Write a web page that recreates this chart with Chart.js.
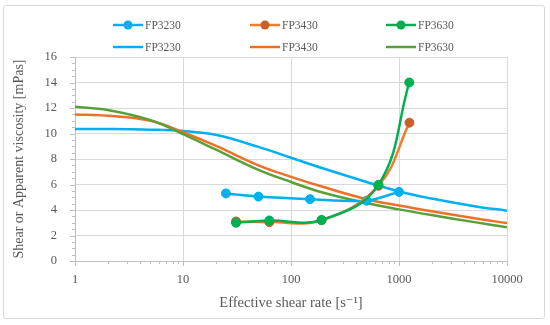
<!DOCTYPE html>
<html>
<head>
<meta charset="utf-8">
<script src="https://cdn.jsdelivr.net/npm/chart.js@4.4.1/dist/chart.umd.min.js"></script>
<style>
  body { margin: 0; background: #fff; }
  #wrap { position: relative; width: 550px; height: 325px; }
  #frame { position: absolute; left: 3px; top: 5px; width: 542px; height: 314px;
           border: 1px solid #d9d9d9; border-radius: 3px; box-sizing: border-box; }
  canvas { position: absolute; left: 0; top: 0; }
</style>
</head>
<body>
<div id="wrap">
  <div id="frame"></div>
  <canvas id="chart" width="550" height="325"></canvas>
</div>
<script>
const seriesNames = ['FP3230', 'FP3430', 'FP3630'];
const xTickValues = [1, 10, 100, 1000, 10000];

// measured points (with markers)
const rateFP3230 = [25, 50, 150, 500, 1000];
const viscFP3230 = [5.3, 5.05, 4.85, 4.73, 5.42];
const rateFP3430 = [31, 63, 192, 645, 1250];
const viscFP3430 = [3.1, 3.05, 3.2, 5.9, 10.85];
const rateFP3630 = [31, 63, 192, 645, 1245];
const viscFP3630 = [3.0, 3.18, 3.22, 5.97, 14.0];

// fitted curves
const modelRate   = [1, 2, 5, 10, 20, 50, 100, 200, 500, 1000, 2000, 5000, 10000];
const modelFP3230 = [10.35, 10.35, 10.3, 10.2, 9.9, 8.95, 8.1, 7.25, 6.2, 5.45, 4.9, 4.3, 3.95];
const modelFP3430 = [11.5, 11.4, 11.0, 10.1, 9.05, 7.5, 6.6, 5.8, 4.85, 4.35, 3.9, 3.35, 2.97];
const modelFP3630 = [12.1, 11.85, 11.05, 9.95, 8.75, 7.15, 6.2, 5.35, 4.55, 4.05, 3.6, 3.05, 2.65];

const textColor = '#595959';
const serif = "'Liberation Serif', 'DejaVu Serif', serif";

function pts(xs, ys) {
    return xs.map((x, i) => ({x: x, y: ys[i]}));
}

function markerSet(name, xs, ys, line, dot, order, tension) {
    return {
        label: name, data: pts(xs, ys), order: order,
        borderColor: line, backgroundColor: dot,
        pointBackgroundColor: dot, pointBorderColor: dot,
        pointRadius: 4.5, pointBorderWidth: 1, borderWidth: 2.5,
        tension: tension, hasMarker: true
    };
}

function curveSet(name, ys, color, order) {
    return {
        label: name, data: pts(modelRate, ys), order: order,
        borderColor: color, backgroundColor: color,
        pointRadius: 0, borderWidth: 2.5, tension: 0.4, hasMarker: false
    };
}

// minor ticks + legend
const extras = {
    id: 'extras',
    afterDraw(chart) {
        const ctx = chart.ctx;
        const xs = chart.scales.x, ys = chart.scales.y;
        const bottom = chart.chartArea.bottom, left = chart.chartArea.left;
        ctx.save();
        ctx.strokeStyle = '#bfbfbf';
        ctx.lineWidth = 1;
        ctx.beginPath();
        for (let d = 1; d < 10000; d *= 10) {
            for (let k = 1; k <= 10; k++) {
                const px = Math.round(xs.getPixelForValue(d * k)) + 0.5;
                ctx.moveTo(px, bottom);
                ctx.lineTo(px, bottom + (k === 1 || k === 10 ? 5 : 3));
            }
        }
        for (let v = 0; v <= 16; v += 0.5) {
            const py = Math.round(ys.getPixelForValue(v)) + 0.5;
            ctx.moveTo(left, py);
            ctx.lineTo(left - (v % 2 === 0 ? 5 : 3), py);
        }
        ctx.stroke();

        // legend, two rows of three
        const colX = [113, 250, 386];
        const rowY = [25, 47];
        ctx.font = '11.5px ' + serif;
        ctx.textBaseline = 'middle';
        ctx.textAlign = 'left';
        chart.data.datasets.forEach((ds, i) => {
            const row = i < 3 ? 0 : 1;
            const x = colX[i % 3], y = rowY[row];
            ctx.strokeStyle = ds.borderColor;
            ctx.lineWidth = 2.5;
            ctx.beginPath();
            ctx.moveTo(x, y);
            ctx.lineTo(x + 30, y);
            ctx.stroke();
            if (ds.hasMarker) {
                ctx.fillStyle = ds.pointBackgroundColor;
                ctx.beginPath();
                ctx.arc(x + 15, y, 4.5, 0, Math.PI * 2);
                ctx.fill();
            }
            ctx.fillStyle = textColor;
            ctx.fillText(ds.label, x + 32, y + 1);
        });
        ctx.restore();
    }
};

new Chart(document.getElementById('chart'), {
    type: 'line',
    data: {
        datasets: [
            markerSet(seriesNames[0], rateFP3230, viscFP3230, '#00b0f0', '#00b0f0', 2, 0.3),
            markerSet(seriesNames[1], rateFP3430, viscFP3430, '#ed7d31', '#c8602a', 1, 0.4),
            markerSet(seriesNames[2], rateFP3630, viscFP3630, '#00b050', '#00b050', 0, 0.4),
            curveSet(seriesNames[0], modelFP3230, '#00b0f0', 5),
            curveSet(seriesNames[1], modelFP3430, '#f07028', 4),
            curveSet(seriesNames[2], modelFP3630, '#58a03a', 3)
        ]
    },
    options: {
        responsive: false,
        animation: false,
        layout: { padding: { top: 57, right: 43, left: 0, bottom: 0 } },
        plugins: { legend: { display: false }, tooltip: { enabled: false } },
        scales: {
            x: {
                type: 'logarithmic', min: 1, max: 10000,
                afterBuildTicks: scale => { scale.ticks = xTickValues.map(v => ({value: v})); },
                afterFit: scale => { scale.height = 64; },
                ticks: {
                    color: textColor, font: { family: serif, size: 12.5 },
                    padding: 11, maxRotation: 0,
                    callback: v => String(v)
                },
                grid: { color: '#d9d9d9', drawTicks: false },
                border: { color: '#bfbfbf' },
                title: {
                    display: true, text: 'Effective shear rate [s\u207B\u00B9]',
                    color: textColor, font: { family: serif, size: 14.5 },
                    padding: { top: 4, bottom: 13 }
                }
            },
            y: {
                min: 0, max: 16,
                afterFit: scale => { scale.width = 75; },
                ticks: {
                    stepSize: 2, color: textColor,
                    font: { family: serif, size: 12.5 }, padding: 18
                },
                grid: { color: '#d9d9d9', drawTicks: false },
                border: { color: '#bfbfbf' },
                title: {
                    display: true, text: 'Shear or Apparent viscosity [mPas]',
                    color: textColor, font: { family: serif, size: 14 },
                    padding: { top: 11, bottom: 4 }
                }
            }
        }
    },
    plugins: [extras]
});
</script>
</body>
</html>
